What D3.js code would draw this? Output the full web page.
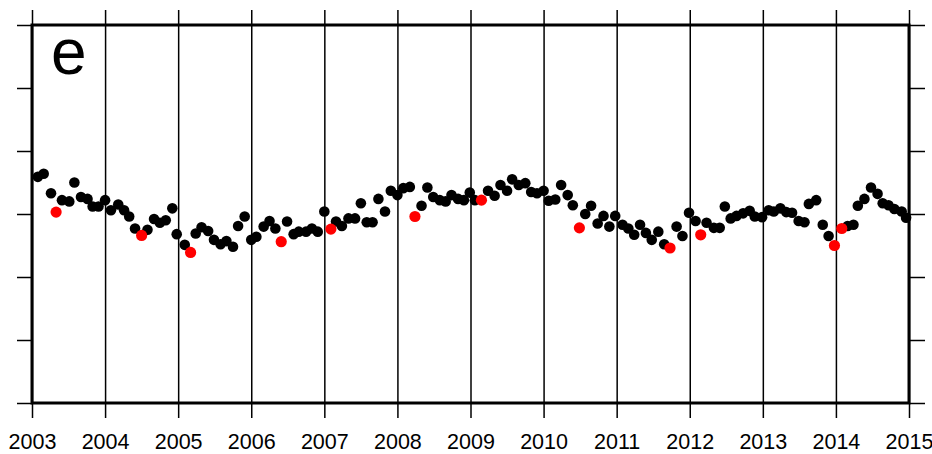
<!DOCTYPE html>
<html>
<head>
<meta charset="utf-8">
<script src="https://cdn.jsdelivr.net/npm/d3@7"></script>
<style>
  body { margin: 0; background: #fff; }
  svg { display: block; font-family: "Liberation Sans", Arial, Helvetica, sans-serif; }
</style>
</head>
<body>
<svg id="chart" width="932" height="454"></svg>
<script>
// monthly series (black), decimal year + anomaly
const blackTimes = [
  2003.08, 2003.16, 2003.26, 2003.41, 2003.51, 2003.58, 2003.67, 2003.76, 2003.83, 2003.91,
  2004.00, 2004.08, 2004.18, 2004.26, 2004.33, 2004.41, 2004.58, 2004.67, 2004.75, 2004.83,
  2004.92, 2004.98, 2005.09, 2005.24, 2005.32, 2005.41, 2005.49, 2005.58, 2005.66, 2005.75,
  2005.82, 2005.91, 2006.00, 2006.07, 2006.17, 2006.25, 2006.33, 2006.49, 2006.58, 2006.65,
  2006.75, 2006.83, 2006.91, 2007.00, 2007.16, 2007.24, 2007.33, 2007.42, 2007.50, 2007.58,
  2007.66, 2007.74, 2007.83, 2007.91, 2008.00, 2008.08, 2008.17, 2008.33, 2008.41, 2008.49,
  2008.58, 2008.66, 2008.74, 2008.83, 2008.91, 2008.99, 2009.06, 2009.24, 2009.33, 2009.41,
  2009.50, 2009.57, 2009.66, 2009.75, 2009.83, 2009.91, 2010.00, 2010.07, 2010.16, 2010.24,
  2010.33, 2010.40, 2010.57, 2010.65, 2010.74, 2010.82, 2010.90, 2010.98, 2011.08, 2011.16,
  2011.24, 2011.32, 2011.40, 2011.48, 2011.57, 2011.65, 2011.82, 2011.90, 2011.99, 2012.08,
  2012.23, 2012.33, 2012.41, 2012.48, 2012.56, 2012.64, 2012.73, 2012.82, 2012.89, 2012.99,
  2013.08, 2013.15, 2013.24, 2013.32, 2013.40, 2013.49, 2013.57, 2013.63, 2013.73, 2013.82,
  2013.90, 2014.16, 2014.24, 2014.30, 2014.39, 2014.48, 2014.57, 2014.64, 2014.72, 2014.80,
  2014.90, 2014.96
];
const blackValues = [
  0.59, 0.64, 0.33, 0.22, 0.20, 0.50, 0.27, 0.24, 0.12, 0.12,
  0.22, 0.06, 0.15, 0.06, -0.04, -0.23, -0.25, -0.08, -0.14, -0.10,
  0.09, -0.32, -0.49, -0.31, -0.21, -0.27, -0.41, -0.48, -0.43, -0.52,
  -0.19, -0.04, -0.41, -0.36, -0.20, -0.11, -0.23, -0.12, -0.32, -0.28,
  -0.28, -0.23, -0.28, 0.04, -0.12, -0.19, -0.07, -0.07, 0.17, -0.13,
  -0.13, 0.24, 0.04, 0.37, 0.30, 0.41, 0.43, 0.13, 0.42, 0.27,
  0.22, 0.20, 0.30, 0.24, 0.22, 0.34, 0.22, 0.37, 0.29, 0.46,
  0.37, 0.55, 0.46, 0.49, 0.35, 0.33, 0.37, 0.21, 0.23, 0.46,
  0.30, 0.14, 0.00, 0.13, -0.15, -0.03, -0.20, -0.03, -0.17, -0.23,
  -0.33, -0.17, -0.30, -0.41, -0.28, -0.48, -0.20, -0.35, 0.02, -0.11,
  -0.14, -0.22, -0.22, 0.12, -0.07, -0.03, 0.01, 0.05, -0.04, -0.05,
  0.06, 0.04, 0.09, 0.03, 0.02, -0.11, -0.13, 0.16, 0.22, -0.17,
  -0.35, -0.19, -0.17, 0.13, 0.24, 0.42, 0.32, 0.17, 0.14, 0.08,
  0.04, -0.06
];

// highlighted months (red)
const redTimes = [2003.33, 2004.50, 2005.17, 2006.41, 2007.09, 2008.24, 2009.15, 2010.49, 2011.73, 2012.15, 2013.98, 2014.08];
const redValues = [0.03, -0.34, -0.61, -0.44, -0.24, -0.04, 0.22, -0.22, -0.54, -0.33, -0.50, -0.23];

const years = d3.range(2003, 2016);
const yTicks = [-3, -2, -1, 0, 1, 2, 3];
const panelLabel = "e";

const svg = d3.select("#chart");
const plotLeft = 32, plotRight = 909, plotTop = 25, plotBottom = 403;

const x = d3.scaleLinear().domain([2003, 2015]).range([plotLeft, plotRight]);
const y = d3.scaleLinear().domain([-3, 3]).range([plotBottom, plotTop]);

// year grid lines, poking out above and below the frame
const xAxis = svg.append("g")
  .attr("transform", `translate(0,${plotBottom + 15})`)
  .call(d3.axisBottom(x)
    .tickValues(years)
    .tickFormat(d3.format("d"))
    .tickSizeInner(-(plotBottom + 15 - 10))
    .tickSizeOuter(0)
    .tickPadding(16));
xAxis.select(".domain").remove();
xAxis.selectAll("line").attr("stroke", "#000").attr("stroke-width", 1.5);
xAxis.selectAll("text")
  .attr("fill", "#000")
  .style("font-size", "21.5px")
  .style("font-family", "'Liberation Sans', Arial, Helvetica, sans-serif");

// y ticks on both sides, no labels
const yLeft = svg.append("g")
  .attr("transform", `translate(${plotLeft},0)`)
  .call(d3.axisLeft(y).tickValues(yTicks).tickSize(15).tickFormat(""));
const yRight = svg.append("g")
  .attr("transform", `translate(${plotRight},0)`)
  .call(d3.axisRight(y).tickValues(yTicks).tickSize(16).tickFormat(""));
[yLeft, yRight].forEach((g) => {
  g.select(".domain").remove();
  g.selectAll("line").attr("stroke", "#000").attr("stroke-width", 1.5);
});

// frame
svg.append("rect")
  .attr("x", plotLeft)
  .attr("y", plotTop)
  .attr("width", plotRight - plotLeft)
  .attr("height", plotBottom - plotTop)
  .attr("fill", "none")
  .attr("stroke", "#000")
  .attr("stroke-width", 3);

const black = blackTimes.map((t, i) => ({ t: t, v: blackValues[i] }));
const red = redTimes.map((t, i) => ({ t: t, v: redValues[i] }));

svg.append("g")
  .selectAll("circle")
  .data(black)
  .enter()
  .append("circle")
  .attr("cx", (d) => x(d.t))
  .attr("cy", (d) => y(d.v))
  .attr("r", 5.3)
  .attr("fill", "#000");

svg.append("g")
  .selectAll("circle")
  .data(red)
  .enter()
  .append("circle")
  .attr("cx", (d) => x(d.t))
  .attr("cy", (d) => y(d.v))
  .attr("r", 5.6)
  .attr("fill", "#ff0000");

svg.append("text")
  .attr("x", 51)
  .attr("y", 74)
  .attr("font-size", 64)
  .attr("fill", "#000")
  .text(panelLabel);
</script>
</body>
</html>
